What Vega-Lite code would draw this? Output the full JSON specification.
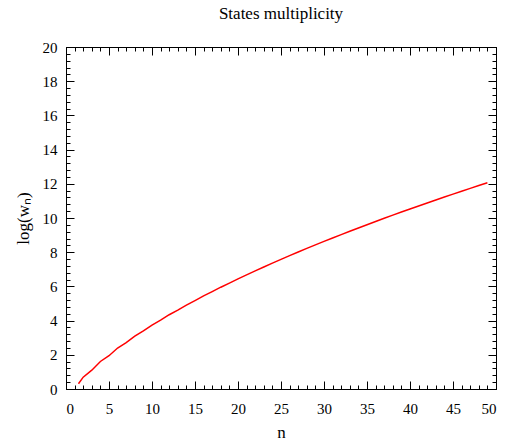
{
  "$schema": "https://vega.github.io/schema/vega-lite/v6.json",
  "autosize": "none",
  "width": 430,
  "height": 342,
  "padding": {"left": 66, "top": 47, "right": 12, "bottom": 53},
  "background": "white",
  "title": {"text": "States multiplicity", "font": "Liberation Serif", "fontSize": 17, "fontWeight": "normal", "color": "black", "baseline": "alphabetic", "frame": "group", "offset": 24, "dy": 20, "anchor": "middle"},
  "config": {
    "view": {"stroke": "black", "strokeWidth": 1},
    "axis": {"domain": false, "grid": false, "tickColor": "black", "tickWidth": 1, "labelFont": "Liberation Serif", "labelFontSize": 15, "labelColor": "black", "titleFont": "Liberation Serif", "titleFontSize": 17, "titleFontWeight": "normal", "titleColor": "black"}
  },
  "data": {"values": [
    {"n": 1.45, "logw": 0.31},
    {"n": 2, "logw": 0.693},
    {"n": 3, "logw": 1.099},
    {"n": 4, "logw": 1.609},
    {"n": 5, "logw": 1.946},
    {"n": 6, "logw": 2.398},
    {"n": 7, "logw": 2.708},
    {"n": 8, "logw": 3.091},
    {"n": 9, "logw": 3.401},
    {"n": 10, "logw": 3.738},
    {"n": 11, "logw": 4.025},
    {"n": 12, "logw": 4.344},
    {"n": 13, "logw": 4.615},
    {"n": 14, "logw": 4.905},
    {"n": 15, "logw": 5.170},
    {"n": 16, "logw": 5.442},
    {"n": 17, "logw": 5.694},
    {"n": 18, "logw": 5.953},
    {"n": 19, "logw": 6.194},
    {"n": 20, "logw": 6.441},
    {"n": 21, "logw": 6.675},
    {"n": 22, "logw": 6.910},
    {"n": 23, "logw": 7.135},
    {"n": 24, "logw": 7.362},
    {"n": 25, "logw": 7.580},
    {"n": 26, "logw": 7.798},
    {"n": 27, "logw": 8.010},
    {"n": 28, "logw": 8.221},
    {"n": 29, "logw": 8.426},
    {"n": 30, "logw": 8.631},
    {"n": 31, "logw": 8.831},
    {"n": 32, "logw": 9.030},
    {"n": 33, "logw": 9.225},
    {"n": 34, "logw": 9.418},
    {"n": 35, "logw": 9.608},
    {"n": 36, "logw": 9.797},
    {"n": 37, "logw": 9.982},
    {"n": 38, "logw": 10.166},
    {"n": 39, "logw": 10.348},
    {"n": 40, "logw": 10.528},
    {"n": 41, "logw": 10.705},
    {"n": 42, "logw": 10.881},
    {"n": 43, "logw": 11.055},
    {"n": 44, "logw": 11.228},
    {"n": 45, "logw": 11.398},
    {"n": 46, "logw": 11.567},
    {"n": 47, "logw": 11.734},
    {"n": 48, "logw": 11.900},
    {"n": 49, "logw": 12.064}
  ]},
  "resolve": {"axis": {"x": "independent", "y": "independent"}},
  "layer": [
    {
      "mark": {"type": "line", "color": "#ff0000", "strokeWidth": 1.5, "clip": true},
      "encoding": {
        "x": {"field": "n", "type": "quantitative", "scale": {"domain": [0, 50], "nice": false, "zero": false},
              "axis": {"orient": "bottom", "values": [0,5,10,15,20,25,30,35,40,45,50], "ticks": false, "labelPadding": 12, "title": "n", "titleY": 48.5, "titleBaseline": "alphabetic"}},
        "y": {"field": "logw", "type": "quantitative", "scale": {"domain": [0, 20], "nice": false, "zero": false},
              "axis": {"orient": "left", "values": [0,2,4,6,8,10,12,14,16,18,20], "ticks": false, "labelPadding": 9, "title": "log(wₙ)", "titleX": -38, "titleY": 171, "titleAngle": 270, "titleAlign": "center", "titleBaseline": "alphabetic"}}
      }
    },
    {
      "mark": {"type": "line", "strokeOpacity": 0},
      "encoding": {
        "x": {"field": "n", "type": "quantitative", "axis": {"orient": "bottom", "values": [0,5,10,15,20,25,30,35,40,45,50], "labels": false, "tickSize": -8, "title": null}},
        "y": {"field": "logw", "type": "quantitative", "axis": {"orient": "left", "values": [0,2,4,6,8,10,12,14,16,18,20], "labels": false, "tickSize": -8, "title": null}}
      }
    },
    {
      "mark": {"type": "line", "strokeOpacity": 0},
      "encoding": {
        "x": {"field": "n", "type": "quantitative", "axis": {"orient": "bottom", "values": [0,1,2,3,4,5,6,7,8,9,10,11,12,13,14,15,16,17,18,19,20,21,22,23,24,25,26,27,28,29,30,31,32,33,34,35,36,37,38,39,40,41,42,43,44,45,46,47,48,49,50], "labels": false, "tickSize": -4, "title": null}},
        "y": {"field": "logw", "type": "quantitative", "axis": {"orient": "left", "values": [0,0.4,0.8,1.2,1.6,2,2.4,2.8,3.2,3.6,4,4.4,4.8,5.2,5.6,6,6.4,6.8,7.2,7.6,8,8.4,8.8,9.2,9.6,10,10.4,10.8,11.2,11.6,12,12.4,12.8,13.2,13.6,14,14.4,14.8,15.2,15.6,16,16.4,16.8,17.2,17.6,18,18.4,18.8,19.2,19.6,20], "labels": false, "tickSize": -4, "title": null}}
      }
    },
    {
      "mark": {"type": "line", "strokeOpacity": 0},
      "encoding": {
        "x": {"field": "n", "type": "quantitative", "axis": {"orient": "top", "values": [0,5,10,15,20,25,30,35,40,45,50], "labels": false, "tickSize": -8, "title": null}},
        "y": {"field": "logw", "type": "quantitative", "axis": {"orient": "right", "values": [0,2,4,6,8,10,12,14,16,18,20], "labels": false, "tickSize": -8, "title": null}}
      }
    },
    {
      "mark": {"type": "line", "strokeOpacity": 0},
      "encoding": {
        "x": {"field": "n", "type": "quantitative", "axis": {"orient": "top", "values": [0,1,2,3,4,5,6,7,8,9,10,11,12,13,14,15,16,17,18,19,20,21,22,23,24,25,26,27,28,29,30,31,32,33,34,35,36,37,38,39,40,41,42,43,44,45,46,47,48,49,50], "labels": false, "tickSize": -4, "title": null}},
        "y": {"field": "logw", "type": "quantitative", "axis": {"orient": "right", "values": [0,0.4,0.8,1.2,1.6,2,2.4,2.8,3.2,3.6,4,4.4,4.8,5.2,5.6,6,6.4,6.8,7.2,7.6,8,8.4,8.8,9.2,9.6,10,10.4,10.8,11.2,11.6,12,12.4,12.8,13.2,13.6,14,14.4,14.8,15.2,15.6,16,16.4,16.8,17.2,17.6,18,18.4,18.8,19.2,19.6,20], "labels": false, "tickSize": -4, "title": null}}
      }
    }
  ]
}
